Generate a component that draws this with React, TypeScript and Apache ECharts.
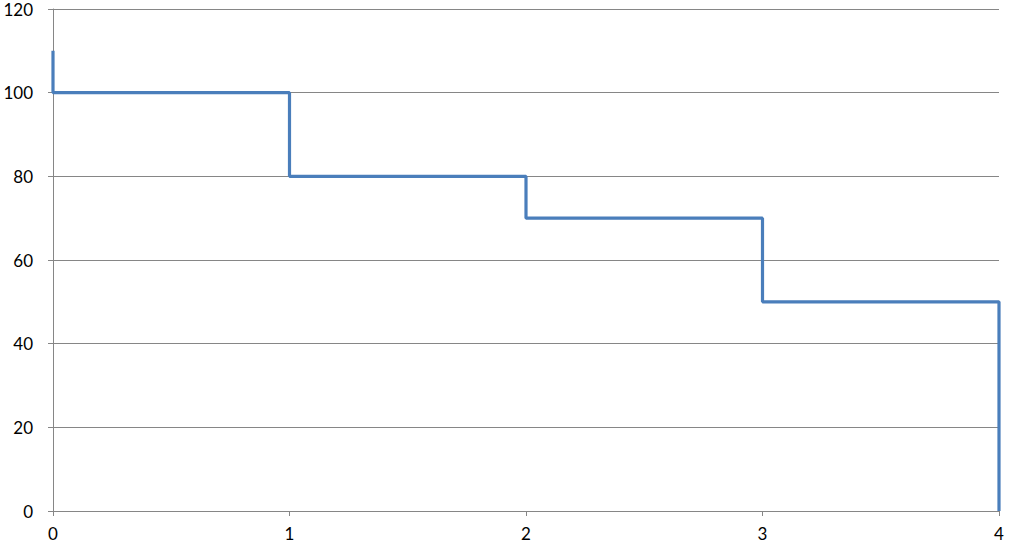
import React, { useEffect, useRef } from "react";
import * as echarts from "echarts";

const xValues = [0, 0, 1, 1, 2, 2, 3, 3, 4, 4];
const yValues = [110, 100, 100, 80, 80, 70, 70, 50, 50, 0];
const yTicks = [0, 20, 40, 60, 80, 100, 120];
const xTicks = [0, 1, 2, 3, 4];

export default function App() {
  const ref = useRef<HTMLDivElement>(null);
  useEffect(() => {
    if (!ref.current) return;
    const chart = echarts.init(ref.current, null, { renderer: "svg" });
    const font = "Lato, 'Open Sans', sans-serif";
    chart.setOption({
      animation: false,
      grid: { left: 53, right: 11, top: 9, bottom: 35, containLabel: false },
      xAxis: {
        type: "value",
        min: xTicks[0],
        max: xTicks[xTicks.length - 1],
        interval: 1,
        axisLine: { show: true, lineStyle: { color: "#868686", width: 1 } },
        axisTick: { show: true, length: 5, lineStyle: { color: "#868686" } },
        splitLine: { show: false },
        axisLabel: { color: "#000", fontSize: 17, fontFamily: font, margin: 14 },
      },
      yAxis: {
        type: "value",
        min: yTicks[0],
        max: yTicks[yTicks.length - 1],
        interval: 20,
        axisLine: { show: true, lineStyle: { color: "#868686", width: 1 } },
        axisTick: { show: true, length: 5, lineStyle: { color: "#868686" } },
        splitLine: { show: true, lineStyle: { color: "#868686", width: 1 } },
        axisLabel: { color: "#000", fontSize: 17, fontFamily: font, margin: 20 },
      },
      series: [
        {
          type: "line",
          data: xValues.map((x, i) => [x, yValues[i]]),
          showSymbol: false,
          symbol: "none",
          lineStyle: { color: "#4a7ebb", width: 3.2 },
        },
      ],
    });
    return () => chart.dispose();
  }, []);
  return (
    <div
      ref={ref}
      style={{ position: "fixed", left: 0, top: 0, width: 1010, height: 546, background: "#fff" }}
    />
  );
}
